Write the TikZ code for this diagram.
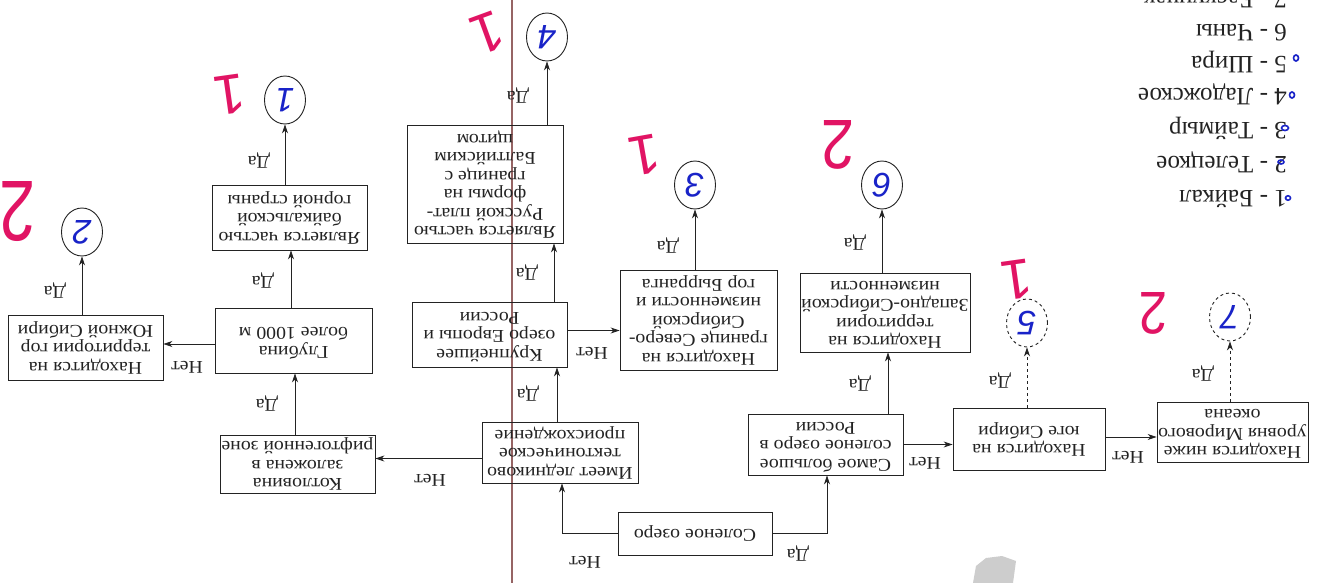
\documentclass[tikz,border=0pt]{standalone}
\usepackage{fontspec}
\usepackage{graphicx}
\setmainfont{Liberation Serif}[FakeStretch=1.1]
\newfontfamily\legfont{Liberation Serif}
\newfontfamily\handfont{Liberation Sans}
\newfontfamily\redfont{Liberation Sans}
\usetikzlibrary{shapes.geometric,arrows.meta,calc}
\definecolor{ink}{RGB}{35,35,35}
\definecolor{handblue}{RGB}{25,35,200}
\definecolor{handred}{RGB}{225,20,100}
\definecolor{vline}{RGB}{150,100,100}
\definecolor{smudge}{RGB}{205,205,205}
\newcommand{\ud}[1]{\rotatebox[origin=c]{180}{\begin{tabular}{@{}c@{}}#1\end{tabular}}}
\newcommand{\boxfont}{\fontsize{18}{18.5}\selectfont}
\begin{document}
\begin{tikzpicture}[x=1pt,y=-1pt,
  qbox/.style={draw=ink, line width=0.9pt, inner sep=0pt, font=\boxfont, text=ink},
  endc/.style={ellipse, draw=ink, line width=0.9pt, minimum width=41pt, minimum height=48pt, inner sep=0pt, font={\handfont\itshape\fontsize{34}{34}\selectfont}, text=handblue},
  lbl/.style={font=\boxfont, text=ink, inner sep=0pt, rotate=180},
  leg/.style={font={\legfont\fontsize{25}{30}\selectfont}, text=ink, inner sep=0pt, rotate=180, anchor=base west},
  redn/.style={font={\redfont\fontsize{56}{56}\selectfont}, text=handred, inner sep=0pt},
  arr/.style={-{Stealth[length=9pt,width=6pt]}, line width=0.8pt, draw=ink},
  bluemark/.style={draw=handblue, line width=1.6pt}
]
\fill[white] (0,0) rectangle (1334,583);
\useasboundingbox (0,0) rectangle (1334,583);
\clip (0,0) rectangle (1334,583);

% scanner line and smudge
\draw[vline, line width=1.3pt] (512,0) -- (512,583);
\fill[smudge] (973,583) -- (976,566) -- (986,558) -- (1002,556) -- (1016,561) -- (1013,583) -- cycle;

% boxes
\node[qbox, minimum width=155pt, minimum height=65pt] (baik) at (289.5,217.5) {\ud{Является частью\\байкальской\\горной страны}};
\node[qbox, minimum width=155pt, minimum height=65pt] (yuzh) at (85.5,347.5) {\ud{Находится на\\территории гор\\Южной Сибири}};
\node[qbox, minimum width=157pt, minimum height=65pt] (glub) at (293.5,340.5) {\ud{Глубина\\более 1000 м}};
\node[qbox, minimum width=155pt, minimum height=58pt] (kotl) at (297.5,464) {\ud{Котловина\\заложена в\\рифтогенной зоне}};
\node[qbox, minimum width=156pt, minimum height=118pt] (rus) at (485,184) {\ud{Является частью\\Русской плат-\\формы на\\границе с\\Балтийским\\щитом}};
\node[qbox, minimum width=155pt, minimum height=65pt] (krup) at (489.5,334.5) {\ud{Крупнейшее\\озеро Европы и\\России}};
\node[qbox, minimum width=156pt, minimum height=61pt] (imeet) at (560,452.5) {\ud{Имеет ледниково\\тектоническое\\происхождение}};
\node[qbox, minimum width=157pt, minimum height=100pt] (gran) at (698.5,320) {\ud{Находится на\\границе Северо-\\Сибирской\\низменности и\\гор Бырранга}};
\node[qbox, minimum width=154pt, minimum height=43pt] (sol) at (695,533.5) {\ud{Соленое озеро}};
\node[qbox, minimum width=155pt, minimum height=61pt] (samoe) at (825.5,444.5) {\ud{Самое большое\\соленое озеро в\\России}};
\node[qbox, minimum width=170pt, minimum height=79pt] (zap) at (885,312.5) {\ud{Находится на\\территории\\Западно-Сибирской\\низменности}};
\node[qbox, minimum width=152pt, minimum height=62pt] (yug) at (1029,439) {\ud{Находится на\\юге Сибири}};
\node[qbox, minimum width=151pt, minimum height=60pt] (nizhe) at (1232.5,432) {\ud{Находится ниже\\уровня Мирового\\океана}};

% end circles
\node[endc] (circ1) at (285,100) {\rotatebox[origin=c]{180}{1}};
\node[endc] (circ2) at (82,232) {\rotatebox[origin=c]{180}{2}};
\node[endc] (circ4) at (547,37) {\rotatebox[origin=c]{180}{4}};
\node[endc] (circ3) at (695,185) {\rotatebox[origin=c]{180}{3}};
\node[endc] (circ6) at (882,185) {\rotatebox[origin=c]{180}{6}};
\node[endc, dashed] (circ5) at (1027,323) {\rotatebox[origin=c]{180}{5}};
\node[endc, dashed] (circ7) at (1230,317) {\rotatebox[origin=c]{180}{7}};

% connectors
\draw[arr] (sol.west) -| ([xshift=2pt]imeet.south);
\draw[arr] (sol.east) -| ([xshift=1.5pt]samoe.south);
\draw[arr] ([xshift=-3pt]imeet.north) -- ([xshift=-3pt]imeet.north |- krup.south);
\draw[arr] ([yshift=-6pt]imeet.west) -- ([yshift=-6pt]imeet.west -| kotl.east);
\draw[arr] ([xshift=-2.5pt]kotl.north) -- ([xshift=-2.5pt]kotl.north |- glub.south);
\draw[arr] ([yshift=-3.5pt]glub.west) -- ([yshift=-3.5pt]glub.west -| yuzh.east);
\draw[arr] ([xshift=-2.5pt]glub.north) -- ([xshift=-2.5pt]glub.north |- baik.south);
\draw[arr] (circ1.south |- baik.north) -- (circ1.south);
\draw[arr] (circ2.south |- yuzh.north) -- (circ2.south);
\draw[arr] ([xshift=64.5pt]krup.north) -- ([xshift=64.5pt]krup.north |- rus.south);
\draw[arr] ([yshift=4pt]krup.east) -- ([yshift=4pt]krup.east -| gran.west);
\draw[arr] (circ4.south |- rus.north) -- (circ4.south);
\draw[arr] (circ3.south |- gran.north) -- (circ3.south);
\draw[arr] ([xshift=3pt]zap.south |- samoe.north) -- ([xshift=3pt]zap.south);
\draw[arr] (circ6.south |- zap.north) -- (circ6.south);
\draw[arr] (samoe.east) -- (samoe.east -| yug.west);
\draw[arr, dashed] (circ5.south |- yug.north) -- (circ5.south);
\draw[arr] ([yshift=2pt]yug.east) -- ([yshift=2pt]yug.east -| nizhe.west);
\draw[arr, dashed] (circ7.south |- nizhe.north) -- (circ7.south);

% labels
\node[lbl] (d1) at (259,160) {Да};
\node[lbl] (d2) at (263,280) {Да};
\node[lbl] (d3) at (267,403) {Да};
\node[lbl] (d4) at (55,290) {Да};
\node[lbl] (d5) at (518,95) {Да};
\node[lbl] (d6) at (527,272) {Да};
\node[lbl] (d7) at (528,393) {Да};
\node[lbl] (d8) at (668,245) {Да};
\node[lbl] (d9) at (798,553) {Да};
\node[lbl] (d10) at (860,383) {Да};
\node[lbl] (d11) at (855,242) {Да};
\node[lbl] (d12) at (1000,380) {Да};
\node[lbl] (d13) at (1203,373) {Да};
\node[lbl] (n1) at (187,367) {Нет};
\node[lbl] (n2) at (430,480) {Нет};
\node[lbl] (n3) at (592,353) {Нет};
\node[lbl] (n4) at (585,562) {Нет};
\node[lbl] (n5) at (925,463) {Нет};
\node[lbl] (n6) at (1128,457) {Нет};

% legend
\node[leg] (l1) at (1287,190) {1 - Байкал};
\node[leg] (l2) at (1287,157) {2 - Телецкое};
\node[leg] (l3) at (1287,123) {3 - Таймыр};
\node[leg] (l4) at (1287,89) {4 - Ладожское};
\node[leg] (l5) at (1287,57) {5 - Шира};
\node[leg] (l6) at (1287,25) {6 - Чаны};
\node[leg] (l7) at (1287,-8) {7 - Баскунчак};
\draw[bluemark] (1288,198) ellipse (2.5pt and 2.2pt);
\draw[bluemark] (1281,162) ellipse (3pt and 2pt);
\draw[bluemark] (1285,128) ellipse (3.5pt and 2.5pt);
\draw[bluemark] (1292,95) ellipse (2.5pt and 3pt);
\draw[bluemark] (1296,58) ellipse (2.5pt and 3pt);

% handwritten red marks
\node[redn, rotate=188] (r1) at (230,95) {1};
\node[redn, rotate=200] (r4) at (487,33) {1};
\node[redn, rotate=190] (r3) at (645,155) {1};
\node[redn, rotate=188] (r5) at (1017,280) {1};
\node[redn, rotate=180, xscale=0.75, font={\redfont\fontsize{86}{86}\selectfont}] (r2) at (18,212) {2};
\node[redn, rotate=180, xscale=0.85, font={\redfont\fontsize{70}{70}\selectfont}] (r6) at (838,145) {2};
\node[redn, rotate=180, xscale=0.85, font={\redfont\fontsize{60}{60}\selectfont}] (r7) at (1153,313) {2};
\end{tikzpicture}
\end{document}
